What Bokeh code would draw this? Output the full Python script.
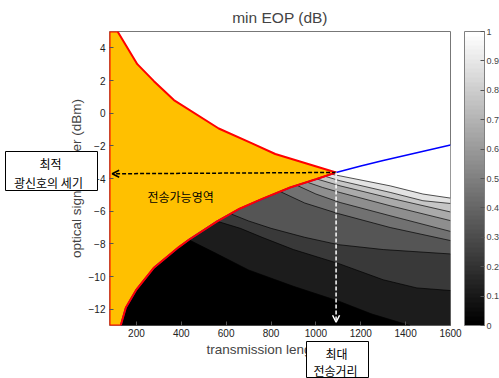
from bokeh.plotting import figure
from bokeh.models import (ColorBar, LinearColorMapper, FixedTicker, Label, Arrow,
                          OpenHead, Range1d)
from bokeh.embed import file_html
from bokeh.resources import INLINE

# ---------------- data ----------------
X_MIN, X_MAX = 80, 1600
Y_MIN, Y_MAX = -13, 5
x_ticks = [200, 400, 600, 800, 1000, 1200, 1400, 1600]
y_ticks = [-12, -10, -8, -6, -4, -2, 0, 2, 4]
cbar_ticks = [0, 0.1, 0.2, 0.3, 0.4, 0.5, 0.6, 0.7, 0.8, 0.9, 1]

# upper boundary of the feasible region (red)
upper_x = [80, 116, 204, 278, 367, 567, 708, 819, 1090]
upper_y = [5.0, 5.0, 3.0, 1.96, 0.8, -0.94, -1.8, -2.5, -3.63]
# lower boundary of the feasible region (red over blue)
lower_x = [130, 153, 200, 278, 389, 434, 560, 660, 760, 885, 1000, 1090]
lower_y = [-13.0, -11.9, -10.8, -9.46, -8.2, -7.75, -6.62, -5.85, -5.25, -4.55, -4.05, -3.63]
# blue contour continuing right of the crossing point
blue_x = [1090, 1200, 1300, 1450, 1600]
blue_y = [-3.63, -3.24, -2.9, -2.42, -1.95]

# grey filled-contour lines (levels 0.1 ... 0.9)
c01_x = [434, 550, 700, 900, 1100, 1250, 1420]
c01_y = [-7.75, -8.55, -9.6, -10.6, -11.5, -12.3, -13.0]
c02_x = [560, 663, 760, 900, 1100, 1300, 1450, 1600]
c02_y = [-6.62, -7.05, -7.6, -8.35, -9.2, -10.2, -10.7, -10.86]
c03_x = [620, 700, 800, 950, 1100, 1300, 1600]
c03_y = [-6.16, -6.6, -7.05, -7.6, -8.05, -8.35, -8.62]
c04_x = [841, 950, 1100, 1331, 1600]
c04_y = [-4.8, -5.5, -6.15, -7.0, -7.8]
c05_x = [916, 1000, 1108, 1331, 1600]
c05_y = [-4.42, -4.95, -5.47, -6.28, -7.24]
c06_x = [960, 1030, 1108, 1331, 1600]
c06_y = [-4.22, -4.55, -4.86, -5.67, -6.58]
c07_x = [1004, 1108, 1331, 1600]
c07_y = [-4.03, -4.45, -5.2, -6.05]
c08_x = [1040, 1108, 1331, 1477, 1600]
c08_y = [-3.86, -4.14, -4.85, -5.36, -5.53]
c09_x = [1068, 1108, 1331, 1477, 1600]
c09_y = [-3.73, -3.84, -4.45, -4.95, -5.20]

max_length = 1090      # 최대 전송거리
opt_power = -3.63      # 최적 광신호의 세기

box1_lines = ["최적", "광신호의 세기"]
box2_lines = ["최대", "전송거리"]

# ---------------- styles ----------------
band_colors = ["#000000", "#1c1c1c", "#393939", "#555555", "#717171",
               "#8e8e8e", "#aaaaaa", "#c6c6c6", "#e3e3e3", "#ffffff"]
ORANGE = "#FFC000"
FONT = "Liberation Sans"
KFONT = "Noto Sans CJK KR"
FRAME_LEFT, FRAME_BOTTOM = 109, 325     # canvas pixels of the axes frame

p = figure(width=499, height=378, output_backend="svg", toolbar_location=None,
           x_range=Range1d(X_MIN, X_MAX), y_range=Range1d(Y_MIN, Y_MAX),
           min_border_left=109, min_border_right=49, min_border_top=31,
           min_border_bottom=53, title="min EOP (dB)")
p.background_fill_color = "white"
p.border_fill_color = "white"
p.outline_line_color = "#777777"
p.grid.visible = False

p.title.align = "center"
p.title.text_font = FONT
p.title.text_font_size = "15.5px"
p.title.text_font_style = "normal"
p.title.standoff = 11

for ax, ticks in ((p.xaxis[0], x_ticks), (p.yaxis[0], y_ticks)):
    ax.ticker = FixedTicker(ticks=ticks)
    ax.major_label_text_font = FONT
    ax.major_label_text_font_size = "10px"
    ax.major_label_text_color = "#222222"
    ax.axis_label_text_font = FONT
    ax.axis_label_text_font_size = "13.5px"
    ax.axis_label_text_font_style = "normal"
    ax.major_tick_in = 4
    ax.major_tick_out = 0
    ax.minor_tick_in = 0
    ax.minor_tick_out = 0
    ax.axis_line_color = None
    ax.major_tick_line_color = "#555555"
p.xaxis[0].axis_label = "transmission length (km)"
p.yaxis[0].axis_label = "optical signal power (dBm)"
p.xaxis[0].major_label_standoff = 3
p.xaxis[0].axis_label_standoff = 2
p.yaxis[0].major_label_standoff = 4
p.yaxis[0].axis_label_standoff = 2

# ---- filled contour bands (painter's order: light to dark) ----
def fill_below(lx, ly):
    xs = [X_MIN] + [x for x in lower_x if x < lx[0]] + list(lx) + [X_MAX]
    ys = [Y_MIN] + [y for x, y in zip(lower_x, lower_y) if x < lx[0]] + list(ly) + [Y_MIN]
    return xs, ys

top_x = [X_MIN] + lower_x + blue_x[1:] + [X_MAX]
top_y = [Y_MIN] + lower_y + blue_y[1:] + [Y_MIN]
p.patch(top_x, top_y, fill_color=band_colors[9], line_color=None)

levels = [(c09_x, c09_y), (c08_x, c08_y), (c07_x, c07_y), (c06_x, c06_y),
          (c05_x, c05_y), (c04_x, c04_y), (c03_x, c03_y), (c02_x, c02_y),
          (c01_x, c01_y)]
for i, (lx, ly) in enumerate(levels):
    xs, ys = fill_below(lx, ly)
    p.patch(xs, ys, fill_color=band_colors[8 - i], line_color=None)
for lx, ly in levels:
    p.line(lx, ly, line_color="black", line_width=0.8, line_alpha=0.85)

# ---- feasible region ----
reg_x = [X_MIN] + upper_x + lower_x[::-1] + [X_MIN]
reg_y = [Y_MIN] + upper_y + lower_y[::-1] + [Y_MIN]
p.patch(reg_x, reg_y, fill_color=ORANGE, line_color=None)

p.line(lower_x + blue_x[1:], lower_y + blue_y[1:], line_color="blue", line_width=1.6)
p.line(reg_x, reg_y, line_color="red", line_width=2)

# ---- arrows ----
p.add_layout(Arrow(x_start=max_length, y_start=opt_power, x_end=92, y_end=opt_power - 0.08,
                   line_color="black", line_width=1.5, line_dash="4 2",
                   end=OpenHead(size=7, line_color="black", line_width=1.5)))
p.add_layout(Arrow(x_start=max_length, y_start=opt_power, x_end=max_length, y_end=-12.8,
                   line_color="white", line_width=1.5, line_dash="4 2",
                   end=OpenHead(size=7, line_color="white", line_width=1.5)))

# ---- texts ----
p.add_layout(Label(x=397, y=-5.12, text="전송가능영역", text_font=KFONT,
                   text_font_size="12px", text_align="center", text_baseline="middle",
                   text_color="black"))

# boxed call-outs outside the axes frame: colour-bar annotations are not clipped
# to the frame, so an empty white bar draws the box and bar-titles carry the text
def box_frame(left, top, right, bottom):
    return ColorBar(color_mapper=LinearColorMapper(palette=["#ffffff"], low=0, high=1),
                    orientation="horizontal",
                    location=(left - FRAME_LEFT, FRAME_BOTTOM - bottom),
                    width=right - left, height=bottom - top, margin=0, padding=0,
                    ticker=FixedTicker(ticks=[]), major_tick_in=0, major_tick_out=0,
                    minor_tick_in=0, minor_tick_out=0, label_standoff=0,
                    major_tick_line_color=None, minor_tick_line_color=None,
                    bar_line_color="black", bar_line_width=1,
                    border_line_color=None, background_fill_color=None)

def text_width(s):
    return sum(3 if ch == " " else 12 for ch in s)

def box_line(text, center_x, center_y):
    left = center_x - text_width(text) / 2
    return ColorBar(color_mapper=LinearColorMapper(palette=["#ffffff"], low=0, high=1),
                    orientation="horizontal",
                    location=(left - FRAME_LEFT, FRAME_BOTTOM - (center_y + 11)),
                    width=10, height=1, margin=0, padding=0, scale_alpha=0,
                    title=text, title_text_font=KFONT, title_text_font_size="12px",
                    title_text_font_style="normal", title_text_color="black",
                    title_standoff=0,
                    ticker=FixedTicker(ticks=[]), major_tick_in=0, major_tick_out=0,
                    minor_tick_in=0, minor_tick_out=0, label_standoff=0,
                    major_tick_line_color=None, minor_tick_line_color=None,
                    bar_line_color=None, border_line_color=None,
                    background_fill_color=None)

p.add_layout(box_frame(5, 151, 97, 190), "center")
p.add_layout(box_frame(306, 341, 368, 377), "center")
for txt, cy in zip(box1_lines, [161, 180]):
    p.add_layout(box_line(txt, 51, cy), "center")
for txt, cy in zip(box2_lines, [351, 368]):
    p.add_layout(box_line(txt, 337, cy), "center")

# ---- colour bar ----
greys = ["#%02x%02x%02x" % (v, v, v) for v in [round(i * 255 / 63) for i in range(64)]]
mapper = LinearColorMapper(palette=greys, low=0, high=1)
cb = ColorBar(color_mapper=mapper, ticker=FixedTicker(ticks=cbar_ticks),
              major_label_overrides={0: "0", 1: "1"},
              location=(355, 0), width=20, height=294, margin=0, padding=0,
              major_label_text_font=FONT, major_label_text_font_size="9px",
              label_standoff=2, major_tick_in=4, major_tick_out=0,
              major_tick_line_color="#555555", bar_line_color="#808080",
              border_line_color=None, background_fill_color=None)
p.add_layout(cb, "center")

open("out.html", "w").write(file_html(p, INLINE))
